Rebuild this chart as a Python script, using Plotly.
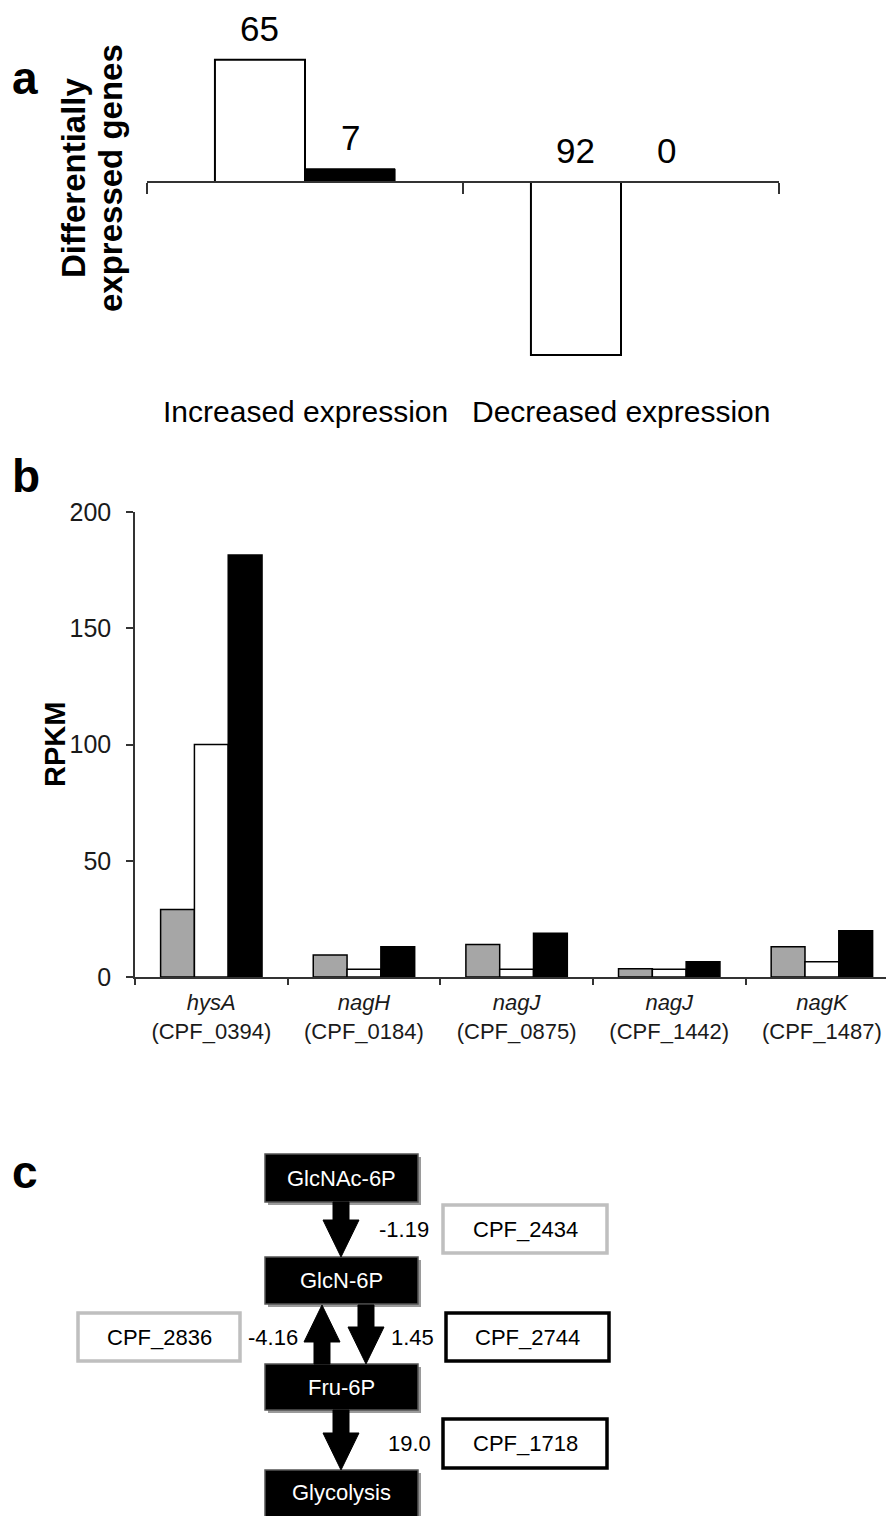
import plotly.graph_objects as go

W, H = 886, 1516

# ---------------- data ----------------
# panel a
a_categories = ["Increased expression", "Decreased expression"]
a_white = [65, -92]
a_black = [7, 0]

# panel b
b_genes = ["hysA", "nagH", "nagJ", "nagJ", "nagK"]
b_loci = ["CPF_0394", "CPF_0184", "CPF_0875", "CPF_1442", "CPF_1487"]
b_gray = [29, 9.5, 14, 3.5, 13]
b_white = [100, 3.3, 3.3, 3.3, 6.6]
b_black = [181.5, 13, 18.8, 6.6, 19.9]
b_ticks = [0, 50, 100, 150, 200]

# panel c
c_nodes = ["GlcNAc-6P", "GlcN-6P", "Fru-6P", "Glycolysis"]
c_fold = ["-1.19", "-4.16", "1.45", "19.0"]
c_genes = ["CPF_2434", "CPF_2836", "CPF_2744", "CPF_1718"]

# ---------------- styling ----------------
SANS = "Liberation Sans, Arial, sans-serif"
AX = "#333333"


def px(x):
    return x / W


def py(y):
    return 1 - y / H


def note(text, x, y, size, xref="paper", yref="paper", color="black", angle=0, **kw):
    d = dict(x=x, y=y, xref=xref, yref=yref, text=text, showarrow=False,
             xanchor="center", yanchor="middle", textangle=angle,
             font=dict(family=SANS, size=size, color=color))
    d.update(kw)
    return d


fig = go.Figure()

# ---------------- panel a ----------------
a_zero, a_scale = 182, 1.88
a_rng = [-100, 90]
a_dom = [py(a_zero - a_rng[0] * a_scale), py(a_zero - a_rng[1] * a_scale)]
a_w = 0.285
fig.add_bar(x=a_categories, y=a_white, width=a_w, offset=-a_w,
            marker=dict(color="white", line=dict(color="black", width=2)),
            xaxis="x", yaxis="y", showlegend=False, hoverinfo="skip")
fig.add_bar(x=a_categories, y=a_black, width=a_w, offset=0,
            marker=dict(color="black", line=dict(color="black", width=1)),
            xaxis="x", yaxis="y", showlegend=False, hoverinfo="skip")

ann = []
for i, (vw, vb) in enumerate(zip(a_white, a_black)):
    for v, off in ((vw, -a_w / 2), (vb, a_w / 2)):
        ann.append(note(str(abs(v)), i + off, max(v, 0), 35, xref="x", yref="y",
                        yanchor="bottom", yshift=10))
    ann.append(note(a_categories[i], i, py(412), 30, xref="x"))

ann.append(note("<b>Differentially</b>", px(73), py(178), 33, angle=-90))
ann.append(note("<b>expressed genes</b>", px(110), py(178), 33, angle=-90))

# ---------------- panel b ----------------
b_w = 0.2215
for vals, col, off in ((b_gray, "#a6a6a6", -1.5), (b_white, "white", -0.5), (b_black, "black", 0.5)):
    fig.add_bar(x=b_loci, y=vals, width=b_w, offset=off * b_w,
                marker=dict(color=col, line=dict(color="black", width=1.5)),
                xaxis="x2", yaxis="y2", showlegend=False, hoverinfo="skip")

ann.append(note("<b>RPKM</b>", px(55), py(745), 29, angle=-90))

# panel letters
for letter, lx, ly in (("a", 25, 78), ("b", 26, 476), ("c", 25, 1172)):
    ann.append(note("<b>%s</b>" % letter, px(lx), py(ly), 46))

# ---------------- panel c (schematic) ----------------
shapes = []
node_x = (265, 418)
node_y = [(1154, 1202), (1257, 1304), (1364, 1410), (1470, 1525)]
for name, (y0, y1) in zip(c_nodes, node_y):
    shapes.append(dict(type="rect", xref="paper", yref="paper",
                       x0=px(node_x[0] + 3), x1=px(node_x[1] + 3), y0=py(y1 + 3), y1=py(y0 + 3),
                       fillcolor="#9a9a9a", line=dict(width=0), layer="above"))
    shapes.append(dict(type="rect", xref="paper", yref="paper",
                       x0=px(node_x[0]), x1=px(node_x[1]), y0=py(y1), y1=py(y0),
                       fillcolor="black", line=dict(color="#555555", width=1.5), layer="above"))
    ann.append(note(name, px(sum(node_x) / 2), py((y0 + min(y1, 1514)) / 2), 22, color="white"))


def arrow(cx, ybase, ytip, shaft=16, head=36, headlen=37):
    s = 1 if ytip > ybase else -1
    yh = ytip - s * headlen
    pts = [(cx - shaft / 2, ybase), (cx - shaft / 2, yh), (cx - head / 2, yh), (cx, ytip),
           (cx + head / 2, yh), (cx + shaft / 2, yh), (cx + shaft / 2, ybase)]
    path = "M " + " L ".join("%.5f,%.5f" % (px(x), py(y)) for x, y in pts) + " Z"
    return dict(type="path", path=path, xref="paper", yref="paper",
                fillcolor="black", line=dict(color="black", width=1), layer="above")


arrows = [(341, 1202, 1257), (322, 1364, 1305), (366, 1305, 1364), (341, 1410, 1470)]
for cx, yb, yt in arrows:
    shapes.append(arrow(cx, yb, yt))

fold_pos = [(404, 1229), (273, 1337), (412, 1337), (409, 1443)]
gene_box = [(443, 607, 1205, 1253), (78, 240, 1313, 1361), (446, 609, 1313, 1361), (443, 607, 1419, 1468)]
for fold, gene, (fx, fy), (x0, x1, y0, y1) in zip(c_fold, c_genes, fold_pos, gene_box):
    col = "#bfbfbf" if float(fold) < 0 else "black"
    ann.append(note(fold, px(fx), py(fy), 22))
    shapes.append(dict(type="rect", xref="paper", yref="paper",
                       x0=px(x0), x1=px(x1), y0=py(y1), y1=py(y0),
                       fillcolor="white", line=dict(color=col, width=3.5), layer="below"))
    ann.append(note(gene, px((x0 + x1) / 2), py((y0 + y1) / 2), 22))

# ---------------- layout ----------------
b_ticktext = ["<i>%s</i><br>(%s)" % (g, l) for g, l in zip(b_genes, b_loci)]

fig.update_layout(
    template="none",
    width=W, height=H, autosize=False,
    margin=dict(l=0, r=0, t=0, b=0, pad=0),
    paper_bgcolor="white", plot_bgcolor="rgba(0,0,0,0)",
    barmode="overlay",
    showlegend=False,
    xaxis=dict(domain=[px(147), px(779)], range=[-0.5, 1.5], type="category",
               anchor="free", position=py(a_zero), automargin=False,
               showline=True, linecolor=AX, linewidth=1.8,
               ticks="outside", ticklen=11, tickwidth=1.5, tickcolor=AX,
               tickson="boundaries", showticklabels=False, showgrid=False, zeroline=False),
    yaxis=dict(domain=a_dom, range=a_rng, visible=False, showgrid=False, zeroline=False,
               automargin=False),
    xaxis2=dict(domain=[px(135), 1.0], range=[-0.5, 4.42], type="category", anchor="y2",
                tickvals=b_loci, ticktext=b_ticktext, automargin=False,
                showline=True, linecolor=AX, linewidth=1.5,
                ticks="outside", ticklen=6, tickwidth=1.5, tickcolor=AX,
                tickson="boundaries", showgrid=False, zeroline=False,
                tickfont=dict(family=SANS, size=22, color="#1a1a1a"), ticklabelstandoff=5),
    yaxis2=dict(domain=[py(977), py(512)], range=[0, 200], anchor="x2", automargin=False,
                tickvals=b_ticks, showline=True, linecolor=AX, linewidth=1.5,
                ticks="outside", ticklen=7, tickwidth=1.5, tickcolor=AX,
                showgrid=False, zeroline=False, ticklabelstandoff=10,
                tickfont=dict(family=SANS, size=25, color="#1a1a1a")),
    annotations=ann,
    shapes=shapes,
)

fig.write_html("out.html", config={"displayModeBar": False},
               post_script="document.body.style.margin='0';document.body.style.overflow='hidden';")
